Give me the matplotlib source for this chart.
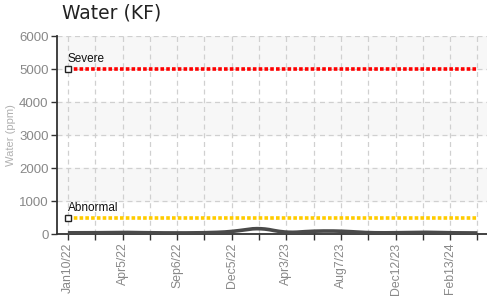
import matplotlib.pyplot as plt
import numpy as np

# sample dates (only every other one is labelled)
dates = ['Jan10/22', 'Feb22/22', 'Apr5/22', 'Jun14/22', 'Sep6/22', 'Oct18/22',
         'Dec5/22', 'Feb6/23', 'Apr3/23', 'Jun5/23', 'Aug7/23', 'Oct9/23',
         'Dec12/23', 'Jan15/24', 'Feb13/24', 'Mar18/24']
water = [40, 40, 55, 40, 35, 40, 70, 200, 35, 95, 95, 40, 40, 60, 40, 35]
severe = 5000
abnormal = 500

plt.rcParams['font.family'] = ['Liberation Sans Narrow', 'Liberation Sans', 'DejaVu Sans']

fig = plt.figure(figsize=(4.87, 2.96), dpi=100)
ax = fig.add_axes([0.117, 0.209, 0.883, 0.669])

x = np.arange(len(dates))

# alternating background bands
for lo in range(1000, 6000, 2000):
    ax.axhspan(lo, lo + 1000, color='#f7f7f7', zorder=0)

ax.grid(True, color='#d0d0d0', linestyle=(0, (4, 3)), linewidth=0.9, zorder=1)

# limit lines
ax.plot(x, [severe] * len(x), color='#ff0000', linestyle=(0, (1, 0.6)), linewidth=2.6, zorder=3)
ax.plot(x, [abnormal] * len(x), color='#ffcc00', linestyle=(0, (1, 0.6)), linewidth=2.6, zorder=3)
ax.plot([0], [severe], marker='s', markersize=4.5, markerfacecolor='white',
        markeredgecolor='#222222', markeredgewidth=1, zorder=4)
ax.plot([0], [abnormal], marker='s', markersize=4.5, markerfacecolor='white',
        markeredgecolor='#222222', markeredgewidth=1, zorder=4)
ax.text(0, severe + 110, 'Severe', fontsize=8.5, color='#111111', ha='left', va='bottom')
ax.text(0, abnormal + 110, 'Abnormal', fontsize=8.5, color='#111111', ha='left', va='bottom')

# measured values, smoothed like the original
xs = np.linspace(0, len(x) - 1, 400)
ys = np.interp(xs, x, water)
k = np.ones(25) / 25
ys_s = np.convolve(np.pad(ys, 12, mode='edge'), k, mode='valid')
ax.plot(xs, ys_s, color='#4a4a4a', linewidth=2.6, solid_capstyle='butt', zorder=5)

ax.set_xlim(-0.4, 15.35)
ax.set_ylim(0, 6000)
ax.set_xticks(x)
ax.set_xticklabels([d if i % 2 == 0 else '' for i, d in enumerate(dates)],
                   rotation=90, fontsize=8.8, color='#888888')
ax.set_yticks(range(0, 6001, 1000))
ax.set_yticklabels([str(v) for v in range(0, 6001, 1000)], fontsize=9.5, color='#888888')
ax.tick_params(axis='both', direction='out', length=4, width=1, color='#333333', pad=2)
ax.set_ylabel('Water (ppm)', fontsize=8, color='#b0b0b0', labelpad=2)

for s in ['top', 'right']:
    ax.spines[s].set_visible(False)
for s in ['left', 'bottom']:
    ax.spines[s].set_color('#333333')
    ax.spines[s].set_linewidth(1.3)

fig.text(0.127, 0.925, 'Water (KF)', fontsize=13.5, color='#222222',
         family=['DejaVu Sans'], ha='left', va='bottom')

fig.savefig('out.png', dpi=100)
